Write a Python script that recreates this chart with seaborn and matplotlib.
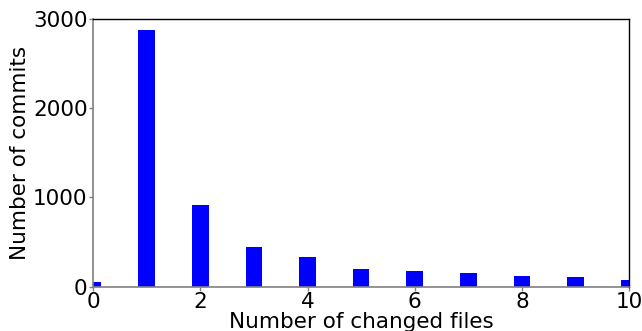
import matplotlib
matplotlib.use("Agg")
import matplotlib.pyplot as plt
import pandas as pd
import seaborn as sns

changed_files = [0, 1, 2, 3, 4, 5, 6, 7, 8, 9, 10]
commits = [56, 2877, 916, 445, 333, 198, 179, 154, 120, 109, 78]

sns.set_style("white")
plt.rcParams["font.family"] = ["DejaVu Sans"]
plt.rcParams["text.color"] = "black"
plt.rcParams["axes.labelcolor"] = "black"
plt.rcParams["xtick.color"] = "black"
plt.rcParams["ytick.color"] = "black"

df = pd.DataFrame({"files": changed_files, "commits": commits})

fig = plt.figure(figsize=(6.42, 3.31), dpi=100)
ax = fig.add_axes([0.145, 0.134, 0.835, 0.809])
sns.barplot(data=df, x="files", y="commits", native_scale=True, width=0.31,
            color="blue", saturation=1, linewidth=0, ax=ax)

ax.set_xlim(0, 10)
ax.set_ylim(0, 3000)
ax.set_xticks([0, 2, 4, 6, 8, 10])
ax.set_yticks([0, 1000, 2000, 3000])
ax.set_xlabel("Number of changed files", fontsize=15.5, labelpad=0)
ax.set_ylabel("Number of commits", fontsize=15.5, labelpad=2)
ax.tick_params(labelsize=15.5, length=3, width=1, color="gray", bottom=True, left=True, pad=1)

for side in ["left", "bottom"]:
    ax.spines[side].set_color("gray")
    ax.spines[side].set_linewidth(1.2)
for side in ["top", "right"]:
    ax.spines[side].set_color("black")
    ax.spines[side].set_linewidth(1)

fig.savefig("out.png", dpi=100)
